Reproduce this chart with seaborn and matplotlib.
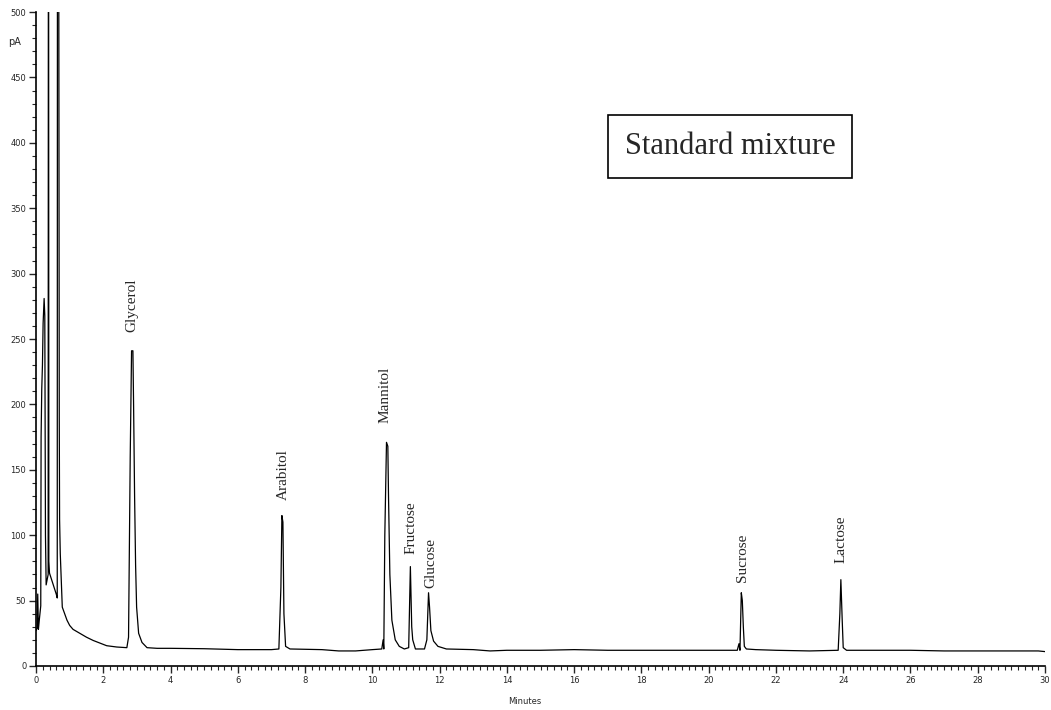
import matplotlib
matplotlib.use("Agg")
import matplotlib.pyplot as plt
import seaborn as sns
from matplotlib.ticker import MultipleLocator

sns.set_style("ticks")

# ── Chromatogram trace (minutes, pA) ──────────────────────────────────
time_min = [
    0.00, 0.03, 0.05, 0.07, 0.10, 0.14, 0.15, 0.17, 0.19, 0.21, 0.24, 0.26,
    0.28, 0.30, 0.36, 0.37, 0.38, 0.40, 0.50, 0.60, 0.63, 0.64, 0.66, 0.69,
    0.70, 0.72, 0.78, 0.85, 0.92, 1.00,
    1.10, 1.30, 1.50, 1.70, 1.90, 2.10, 2.40, 2.70, 2.75, 2.80, 2.84, 2.88,
    2.90, 2.93, 2.96, 2.99, 3.05, 3.15, 3.30, 3.60, 4.00, 5.00, 6.00, 7.00,
    7.22, 7.28, 7.31, 7.34, 7.37, 7.42, 7.55, 8.50, 9.00, 9.50, 10.00, 10.28,
    10.32, 10.34, 10.37, 10.42, 10.46, 10.48, 10.52, 10.58, 10.68, 10.80, 10.95, 11.08,
    11.13, 11.17, 11.20, 11.28, 11.55, 11.62, 11.67, 11.70, 11.74, 11.82, 11.95, 12.20,
    13.00, 13.50, 14.00, 15.00, 16.00, 17.00, 18.00, 19.00, 20.00, 20.85, 20.90, 20.93,
    20.97, 21.00, 21.03, 21.06, 21.12, 21.40, 22.00, 23.00, 23.85, 23.90, 23.93, 23.97,
    24.00, 24.10, 25.00, 26.00, 27.00, 28.00, 29.00, 29.80, 30.00,
]
signal_pa = [
    27, 29, 55, 28, 36, 46, 175, 212, 230, 262, 281, 268,
    100, 62, 70, 900, 80, 71, 63, 55, 52, 900, 900, 190,
    112, 86, 45, 40, 35, 31,
    28, 25, 22, 19.5, 17.5, 15.5, 14.5, 14, 22, 160, 241, 241,
    200, 130, 77, 45, 25, 18, 14, 13.5, 13.5, 13.2, 12.5, 12.5,
    13, 60, 115, 110, 40, 15, 13, 12.5, 11.5, 11.5, 12.5, 13,
    20, 13, 100, 171, 168, 130, 70, 35, 20, 15, 13, 14,
    76, 30, 20, 13, 13, 20, 56, 45, 27, 19, 15, 13,
    12.5, 11.5, 12, 12, 12.5, 12, 12, 12, 12, 12, 17, 12,
    56, 50, 30, 15, 13, 12.5, 12, 11.5, 12, 40, 66, 35,
    14, 12, 12, 12, 11.5, 11.5, 11.5, 11.5, 11,
]

# ── Peak annotations ─────────────────────────────────────────────────
peak_names = ["Glycerol", "Arabitol", "Mannitol", "Fructose", "Glucose", "Sucrose", "Lactose"]
peak_label_t = [2.86, 7.35, 10.38, 11.15, 11.73, 21.02, 23.94]
peak_label_y = [255, 127, 186, 86, 60, 64, 79]

fig = plt.figure(figsize=(10.51, 7.10), dpi=100)
ax = fig.add_axes([0.0343, 0.062, 0.96, 0.921])

sns.lineplot(x=time_min, y=signal_pa, ax=ax, color="black",
             linewidth=0.9, sort=False, estimator=None)

for name, t, y in zip(peak_names, peak_label_t, peak_label_y):
    ax.text(t, y, name, rotation=90, ha="center", va="bottom",
            family="Liberation Serif", fontsize=11)

ax.text(20.64, 397, "Standard mixture", ha="center", va="center",
        family="Liberation Serif", fontsize=22,
        bbox=dict(boxstyle="square,pad=0.55", facecolor="white",
                  edgecolor="black", linewidth=1.2))

ax.set_xlim(0, 30)
ax.set_ylim(0, 500)
ax.xaxis.set_major_locator(MultipleLocator(2))
ax.xaxis.set_minor_locator(MultipleLocator(0.2))
ax.yaxis.set_major_locator(MultipleLocator(50))
ax.yaxis.set_minor_locator(MultipleLocator(10))
ax.tick_params(which="major", length=5, width=1, labelsize=6, pad=2)
ax.tick_params(which="minor", length=3, width=0.8)
sns.despine(ax=ax)
for s in ["left", "bottom"]:
    ax.spines[s].set_linewidth(1.2)
    ax.spines[s].set_color("black")

ax.set_xlabel("")
ax.set_ylabel("")
fig.text(0.4995, 0.012, "Minutes", ha="center", va="center", fontsize=6)
fig.text(0.0143, 0.941, "pA", ha="center", va="center", fontsize=7)

fig.savefig("out.png", dpi=100)
